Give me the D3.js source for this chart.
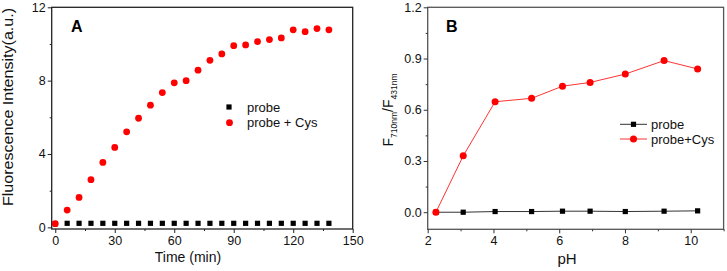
<!DOCTYPE html>
<html><head><meta charset="utf-8">
<script src="https://cdn.jsdelivr.net/npm/d3@7"></script>
<style>
body{margin:0;background:#fff;}
svg{display:block;font-family:"Liberation Sans",Arial,sans-serif;}
</style></head>
<body>
<svg id="c" width="727" height="271"></svg>
<script>
// Panel A data
const timeA = [0,6,12,18,24,30,36,42,48,54,60,66,72,78,84,90,96,102,108,114,120,126,132,138];
const probeA = [0.2,0.22,0.22,0.22,0.22,0.22,0.22,0.22,0.22,0.22,0.22,0.22,0.22,0.22,0.22,0.22,0.22,0.22,0.22,0.22,0.22,0.22,0.22,0.22];
const cysA = [0.2,0.94,1.63,2.6,3.54,4.36,5.21,5.95,6.66,7.35,7.88,8.0,8.57,9.11,9.46,9.91,9.95,10.13,10.24,10.33,10.77,10.67,10.84,10.77];
const xTicksA = [0,30,60,90,120,150];
const yTicksA = [0,4,8,12];
// Panel B data
const pH = [2.25,3.08,4.05,5.16,6.1,6.94,8.01,9.19,10.21];
const probeB = [0.0,0.0,0.004,0.004,0.006,0.006,0.004,0.006,0.008];
const cysB = [0.0,0.33,0.647,0.667,0.738,0.76,0.809,0.888,0.839];
const xTicksB = [2,4,6,8,10];
const yTicksB = [0.0,0.3,0.6,0.9,1.2];

const svg = d3.select("#c");

function frame(g, x, y, color){
  const [x0,x1] = x.range(), [y0,y1] = y.range();
  g.append("rect").attr("x",x0).attr("y",y1).attr("width",x1-x0).attr("height",y0-y1)
   .attr("fill","none").attr("stroke",color).attr("stroke-width",1.3);
}

// ---------- Panel A ----------
const gA = svg.append("g");
const xA = d3.scaleLinear().domain([-1.8,150]).range([51.7,352.7]);
const yA = d3.scaleLinear().domain([-0.09,12]).range([229,7.3]);
frame(gA, xA, yA, "#222");
gA.append("g").attr("transform","translate(0,229)")
  .call(d3.axisBottom(xA).tickValues(xTicksA).tickSize(4).tickPadding(3));
gA.append("g").attr("transform","translate(0,229)")
  .call(d3.axisBottom(xA).tickValues(d3.range(15,150,30)).tickSize(2).tickFormat(""));
gA.append("g").attr("transform","translate(51.7,0)")
  .call(d3.axisLeft(yA).tickValues(yTicksA).tickSize(4).tickPadding(2));
gA.append("g").attr("transform","translate(51.7,0)")
  .call(d3.axisLeft(yA).tickValues([2,6,10]).tickSize(2).tickFormat(""));
gA.selectAll(".domain").remove();
gA.selectAll(".tick line").attr("stroke","#222");
gA.selectAll(".tick text").attr("font-size",12.5).attr("fill","#111").style("font-family","'Liberation Sans',Arial,sans-serif");

gA.append("g").selectAll("rect").data(timeA).join("rect")
  .attr("x",(d)=>xA(d)-2.6).attr("y",(d,i)=>yA(probeA[i])-2.6)
  .attr("width",5.2).attr("height",5.2).attr("fill","#000");
gA.append("g").selectAll("circle").data(timeA).join("circle")
  .attr("cx",d=>xA(d)).attr("cy",(d,i)=>yA(cysA[i])).attr("r",3.4).attr("fill","#ff0000");

gA.append("text").attr("x",71).attr("y",32).attr("font-size",16).attr("font-weight","bold").text("A");
gA.append("rect").attr("x",229-2.6).attr("y",107-2.6).attr("width",5.2).attr("height",5.2).attr("fill","#000");
gA.append("circle").attr("cx",229.5).attr("cy",122.7).attr("r",3.4).attr("fill","#ff0000");
gA.append("text").attr("x",247).attr("y",111.5).attr("font-size",13).attr("fill","#111").text("probe");
gA.append("text").attr("x",247).attr("y",127).attr("font-size",13).attr("fill","#111").text("probe + Cys");
gA.append("text").attr("transform","translate(12.5,107) rotate(-90)").attr("text-anchor","middle")
  .attr("font-size",14).attr("fill","#111")
  .attr("textLength",198).attr("lengthAdjust","spacingAndGlyphs").text("Fluorescence Intensity(a.u.)");
gA.append("text").attr("x",188).attr("y",261.5).attr("text-anchor","middle")
  .attr("font-size",14).attr("fill","#111").text("Time (min)");

// ---------- Panel B ----------
const gB = svg.append("g");
const xB = d3.scaleLinear().domain([2,11]).range([427.7,723.6]);
const yB = d3.scaleLinear().domain([-0.1,1.2]).range([229.3,7.3]);
frame(gB, xB, yB, "#555");
gB.append("g").attr("transform","translate(0,229.3)")
  .call(d3.axisBottom(xB).tickValues(xTicksB).tickSize(4).tickPadding(3));
gB.append("g").attr("transform","translate(0,229.3)")
  .call(d3.axisBottom(xB).tickValues([3,5,7,9,11]).tickSize(2).tickFormat(""));
gB.append("g").attr("transform","translate(427.7,0)")
  .call(d3.axisLeft(yB).tickValues(yTicksB).tickSize(4).tickPadding(2).tickFormat(d3.format(".1f")));
gB.append("g").attr("transform","translate(427.7,0)")
  .call(d3.axisLeft(yB).tickValues([0.15,0.45,0.75,1.05]).tickSize(2).tickFormat(""));
gB.selectAll(".domain").remove();
gB.selectAll(".tick line").attr("stroke","#333");
gB.selectAll(".tick text").attr("font-size",12.5).attr("fill","#111").style("font-family","'Liberation Sans',Arial,sans-serif");

const lineB = (vals)=>d3.line().x((d)=>xB(d)).y((d,i)=>yB(vals[i]));
gB.append("path").attr("d",lineB(probeB)(pH)).attr("fill","none").attr("stroke","#333").attr("stroke-width",1);
gB.append("g").selectAll("rect").data(pH).join("rect")
  .attr("x",d=>xB(d)-2.6).attr("y",(d,i)=>yB(probeB[i])-2.6)
  .attr("width",5.2).attr("height",5.2).attr("fill","#000");
gB.append("path").attr("d",lineB(cysB)(pH)).attr("fill","none").attr("stroke","#ff3333").attr("stroke-width",1);
gB.append("g").selectAll("circle").data(pH).join("circle")
  .attr("cx",d=>xB(d)).attr("cy",(d,i)=>yB(cysB[i])).attr("r",3.5).attr("fill","#ff0000");

gB.append("text").attr("x",446).attr("y",32).attr("font-size",16).attr("font-weight","bold").text("B");
gB.append("line").attr("x1",620).attr("x2",647).attr("y1",124.3).attr("y2",124.3).attr("stroke","#333");
gB.append("rect").attr("x",633.5-2.6).attr("y",124.3-2.6).attr("width",5.2).attr("height",5.2).attr("fill","#000");
gB.append("line").attr("x1",620).attr("x2",647).attr("y1",139).attr("y2",139).attr("stroke","#ff3333");
gB.append("circle").attr("cx",633.5).attr("cy",139).attr("r",3.5).attr("fill","#ff0000");
gB.append("text").attr("x",651).attr("y",128.8).attr("font-size",13).attr("fill","#111").text("probe");
gB.append("text").attr("x",651).attr("y",143.8).attr("font-size",13).attr("fill","#111").text("probe+Cys");

const yl = gB.append("text").attr("transform","translate(393,110) rotate(-90)").attr("text-anchor","middle")
  .attr("font-size",14).attr("fill","#111");
yl.append("tspan").text("F");
yl.append("tspan").attr("font-size",8.5).attr("dy",4).text("710nm");
yl.append("tspan").attr("dy",-4).text("/F");
yl.append("tspan").attr("font-size",8.5).attr("dy",4).text("431nm");
gB.append("text").attr("x",567).attr("y",264).attr("text-anchor","middle")
  .attr("font-size",15).attr("fill","#111").text("pH");
</script>
</body></html>
